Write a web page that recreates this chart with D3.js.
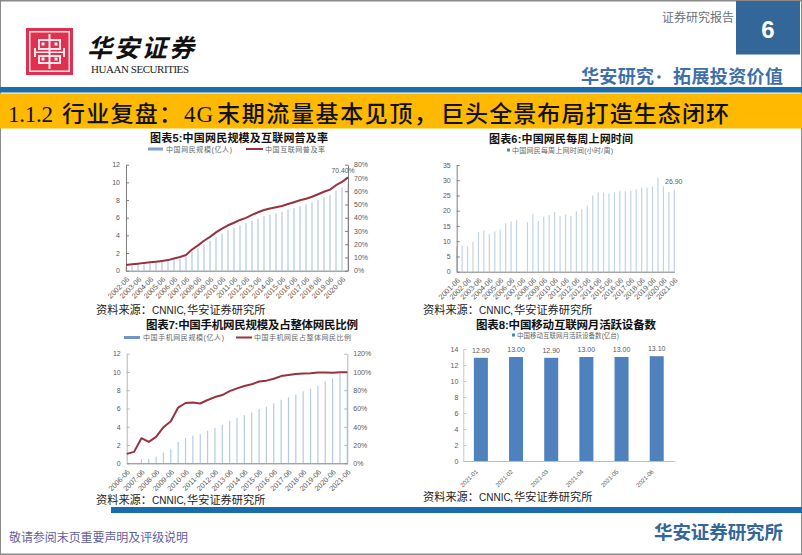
<!DOCTYPE html>
<html><head><meta charset="utf-8">
<script src="https://cdn.jsdelivr.net/npm/d3@7"></script>
<style>html,body{margin:0;padding:0;background:#fff}svg{display:block}
text{font-family:"Liberation Sans","Noto Sans CJK SC",sans-serif}
.cn{font-family:"Liberation Serif","Noto Sans CJK SC",serif}</style></head><body>
<div id="c"></div>
<script>
// ---- data ----
const halfYears5 = ["2002-06","2002-12","2003-06","2003-12","2004-06","2004-12","2005-06","2005-12","2006-06","2006-12","2007-06","2007-12","2008-06","2008-12","2009-06","2009-12","2010-06","2010-12","2011-06","2011-12","2012-06","2012-12","2013-06","2013-12","2014-06","2014-12","2015-06","2015-12","2016-06","2016-12","2017-06","2017-12","2018-06","2018-12","2019-06","2020-03","2020-06","2020-12"];
const users5 = [0.46,0.59,0.68,0.80,0.87,0.94,1.03,1.11,1.23,1.37,1.62,2.10,2.53,2.98,3.38,3.84,4.20,4.57,4.85,5.13,5.38,5.64,5.91,6.18,6.32,6.49,6.68,6.88,7.10,7.31,7.51,7.72,8.02,8.29,8.54,9.04,9.40,9.89];
const rate5 = [4.3,4.8,5.3,5.9,6.3,6.8,7.4,8.0,9.2,10.3,11.8,16.0,19.1,22.6,25.5,28.9,31.8,34.3,36.2,38.3,39.9,42.1,44.1,45.8,46.9,47.9,48.8,50.3,51.7,53.2,54.3,55.8,57.7,59.6,61.2,64.5,67.0,70.4];
const ticks5 = ["2002-06","2003-06","2004-06","2005-06","2006-06","2007-06","2008-06","2009-06","2010-06","2011-06","2012-06","2013-06","2014-06","2015-06","2016-06","2017-06","2018-06","2019-06","2020-06"];

const halfYears6 = ["2001-06","2001-12","2002-06","2002-12","2003-06","2003-12","2004-06","2004-12","2005-06","2005-12","2006-06","2006-12","2007-06","2007-12","2008-06","2008-12","2009-06","2009-12","2010-06","2010-12","2011-06","2011-12","2012-06","2012-12","2013-06","2013-12","2014-06","2014-12","2015-06","2015-12","2016-06","2016-12","2017-06","2017-12","2018-06","2018-12","2019-06","2020-03","2020-06","2020-12","2021-06"];
const hours6 = [8.3,8.5,8.3,9.8,13,13.5,12.3,13.2,13.8,16,16.5,16.9,0,16.2,19,16.6,18,18.6,19.6,18.2,18.7,18.3,19.8,20.5,21.7,25,26,26,25.6,26,26.4,26.4,26.5,27,27.6,27.6,27.9,30.8,28,26.2,26.9];
const ticks6 = ["2001-06","2002-06","2003-06","2004-06","2005-06","2006-06","2007-06","2008-06","2009-06","2010-06","2011-06","2012-06","2013-06","2014-06","2015-06","2016-06","2017-06","2018-06","2019-06","2020-06","2021-06"];

const halfYears7 = ["2006-06","2006-12","2007-06","2007-12","2008-06","2008-12","2009-06","2009-12","2010-06","2010-12","2011-06","2011-12","2012-06","2012-12","2013-06","2013-12","2014-06","2014-12","2015-06","2015-12","2016-06","2016-12","2017-06","2017-12","2018-06","2018-12","2019-06","2019-12","2020-06","2020-12","2021-06"];
const mobile7 = [0.01,0.05,0.44,0.50,0.73,1.18,1.55,2.33,2.77,3.03,3.18,3.56,3.88,4.20,4.64,5.00,5.27,5.57,5.94,6.20,6.56,6.95,7.24,7.53,7.88,8.17,8.47,8.97,9.32,9.86,10.07];
const share7 = [10.3,12.5,27.5,23.5,29,39.5,46,61,66,66.5,65.5,69.3,72.5,74.7,79,82,84.7,86.5,89.5,90.5,92.6,95.5,96.6,97.8,98.3,98.6,99.3,99.3,99.2,99.7,99.6];
const ticks7 = ["2006-06","2007-06","2008-06","2009-06","2010-06","2011-06","2012-06","2013-06","2014-06","2015-06","2016-06","2017-06","2018-06","2019-06","2020-06","2021-06"];

const months8 = ["2021-01","2021-02","2021-03","2021-04","2021-05","2021-06"];
const devices8 = [12.9,13.0,12.9,13.0,13.0,13.1];

const BLUE="#4f81bd", RED="#98323f", GREY="#595959", AXIS="#7f7f7f", HEAD="#336699";
const W=802,H=555;
const svg=d3.select("#c").append("svg").attr("width",W).attr("height",H);

function txt(x0,x1,y,s,size,fill,weight,cls){
  const t=svg.append("text").attr("x",x0).attr("y",y).attr("font-size",size).attr("fill",fill||"#000")
    .attr("dominant-baseline","central").text(s);
  if(weight)t.attr("font-weight",weight);
  if(cls)t.attr("class",cls);
  if(x1)t.attr("textLength",x1-x0).attr("lengthAdjust","spacing");
  return t;
}
function rect(x,y,w,h,f){return svg.append("rect").attr("x",x).attr("y",y).attr("width",w).attr("height",h).attr("fill",f);}

// ---- page furniture ----
rect(0,0,W,1.5,"#8a8a8a");rect(0,0,1,H,"#8a8a8a");rect(0,H-1.5,W,1.5,"#8a8a8a");rect(W-1,0,1,H,"#8a8a8a");
rect(736,1,64,53.5,HEAD);
svg.append("text").attr("x",768).attr("y",29).attr("text-anchor","middle").attr("dominant-baseline","central")
  .attr("font-size",24).attr("font-weight","bold").attr("fill","#fff").text("6");
txt(662,734,18,"证券研究报告",12,"#6b7078");
txt(581,654,76.5,"华安研究",18,"#3f6fa8","bold");
svg.append("circle").attr("cx",659).attr("cy",77).attr("r",1.8).attr("fill","#3f6fa8");
txt(673,783,76.5,"拓展投资价值",18,"#3f6fa8","bold");
rect(0,87,W,5.5,"#1a6dad");
rect(0,93.5,W,35,"#ffb900");
const T=(a,b,s)=>txt(a,b,114,s,23,"#111","500","cn");
T(8,53,"1.1.2");T(62,182,"行业复盘\uFF1A");T(184,213,"4G");T(217,437,"末期流量基本见顶\uFF0C");T(441,729,"巨头全景布局打造生态闭环");
rect(111,507,691,6,"#1a6dad");
txt(9,188,538,"敬请参阅末页重要声明及评级说明",12,"#5f5f9e");
txt(654,783,532,"华安证券研究所",18.5,HEAD,"bold");

// ---- logo ----
const logo=svg.append("g").attr("transform","translate(26,28)");
logo.append("rect").attr("width",47).attr("height",47).attr("fill","#e0304f");
const ln=(x,y,w,h)=>logo.append("rect").attr("x",x).attr("y",y).attr("width",w).attr("height",h).attr("fill","#fbe8ea");
ln(3,3,41,1.5);ln(3,42.5,41,1.5);ln(3,3,1.5,41);ln(42.5,3,1.5,41);
ln(12,11,23,2);ln(12,20,23,2);ln(12,27,23,2);ln(12,34,23,2);
ln(12,11,2,11);ln(33,11,2,11);ln(12,27,2,9);ln(33,27,2,9);
ln(22.5,6,2,35);ln(8,20,2,9);ln(37,20,2,9);ln(8,23.5,31,1.5);
logo.selectAll(".d").data([[17,16],[30,16],[17,31],[30,31]]).join("rect").attr("x",d=>d[0]-1.5).attr("y",d=>d[1]-1.5).attr("width",3).attr("height",3).attr("fill","#fbe8ea");
txt(87,194,48,"华安证券",25,"#111","bold").attr("font-style","italic");
txt(91,189,69,"HUAAN SECURITIES",11,"#222",null,"cn").style("font-family","'Liberation Serif'");

// ---- chart helpers ----
function styleAxis(g,color,fs){
  g.selectAll("path").attr("stroke",color).attr("stroke-width",1);
  g.selectAll("line").attr("stroke",color).attr("stroke-width",1);
  g.selectAll("text").attr("fill",GREY).attr("font-size",fs||7);
}
function xAxis(x,y0,ticks,fs,col,dx,dy){
  const g=svg.append("g").attr("transform",`translate(0,${y0})`).call(d3.axisBottom(x).tickValues(ticks).tickSize(0));
  styleAxis(g,col||AXIS,fs||7.3);
  g.selectAll("text").attr("text-anchor","end").attr("x",0).attr("y",0).attr("dy",0)
    .attr("dominant-baseline","central")
    .attr("transform",`translate(${dx===undefined?1.5:dx},${dy===undefined?7.5:dy}) rotate(-45)`);
  return g;
}
function yAxis(x0,y,ticks,fmt,right,col,pad){
  const ax=(right?d3.axisRight(y):d3.axisLeft(y)).tickValues(ticks).tickFormat(fmt).tickSizeOuter(0).tickSizeInner(-3).tickPadding(pad||6);
  const g=svg.append("g").attr("transform",`translate(${x0},0)`).call(ax);
  styleAxis(g,col||AXIS);
  return g;
}
function bars(x,y,vals,cats,w,color,op){
  svg.append("g").selectAll("rect").data(vals).join("rect")
    .attr("x",(d,i)=>x(cats[i])-w/2).attr("width",w)
    .attr("y",d=>y(d)).attr("height",d=>y(0)-y(d))
    .attr("fill",color).attr("fill-opacity",op);
}
function line(x,y,vals,cats){
  const p=d3.line().x((d,i)=>x(cats[i])).y(d=>y(d));
  svg.append("path").attr("d",p(vals)).attr("fill","none").attr("stroke",RED).attr("stroke-width",2).attr("stroke-linejoin","round");
}
function source(x,y){
  const t=svg.append("text").attr("y",y).attr("fill","#222").attr("font-size",11.2).attr("dominant-baseline","central");
  t.append("tspan").attr("x",x).text("资料来源\uFF1A");
  t.append("tspan").attr("x",x+56).attr("font-size",10).text("CNNIC");
  t.append("tspan").attr("x",x+87).text(",");
  t.append("tspan").attr("x",x+91).text("华安证券研究所");
}
function swatch(x0,x1,y,color,h){rect(x0,y-h/2,x1-x0,h,color);}
const seq=(a,b,s)=>d3.range(a,b+s/2,s);

// ---- chart 5 ----
{
  txt(150,328,138,"图表5:中国网民规模及互联网普及率",11,"#111","bold");
  swatch(148,163,149,"#7f9fcc",3);txt(166,232,149,"中国网民规模(亿人)",7,"#666");
  swatch(246,263,149,RED,2);txt(265,325,149,"中国互联网普及率",7,"#666");
  const x=d3.scalePoint().domain(halfYears5).range([126,348]);
  const y=d3.scaleLinear().domain([0,12]).range([270.7,164.7]);
  const y2=d3.scaleLinear().domain([0,80]).range([270.7,164.7]);
  bars(x,y,users5,halfYears5,1.3,BLUE,.4);
  yAxis(126,y,seq(0,12,2),d3.format("d"));
  yAxis(348,y2,seq(0,80,10),d=>d+"%",true);
  xAxis(x,270.7,ticks5);
  line(x,y2,rate5,halfYears5);
  txt(331.5,null,170.5,"70.40%",6.8,GREY);
  source(96,310);
}
// ---- chart 6 ----
{
  txt(489,633,139,"图表6:中国网民每周上网时间",11,"#111","bold");
  rect(507,148.5,3,3,BLUE);txt(512,613,150,"中国网民每周上网时间(小时/周)",7,"#666");
  const x=d3.scalePoint().domain(halfYears6).range([456.7,674.3]);
  const y=d3.scaleLinear().domain([0,35]).range([271.7,165]);
  bars(x,y,hours6,halfYears6,1.2,BLUE,.35);
  yAxis(456.7,y,seq(0,35,5),d3.format("d"));
  xAxis(x,271.7,ticks6);
  txt(665,null,181.5,"26.90",7,GREY);
  source(423,310);
}
// ---- chart 7 ----
{
  txt(146,358,325,"图表7:中国手机网民规模及占整体网民比例",11.5,"#111","bold");
  swatch(124,140,337.5,"#6f96c8",3);txt(143,224,337.5,"中国手机网民规模(亿人)",7,"#666");
  swatch(236,252,337.5,RED,2);txt(254,351,337.5,"中国手机网民占整体网民比例",7,"#666");
  const x=d3.scalePoint().domain(halfYears7).range([126.7,347.3]);
  const y=d3.scaleLinear().domain([0,12]).range([463.3,353.7]);
  const y2=d3.scaleLinear().domain([0,120]).range([463.3,353.7]);
  bars(x,y,mobile7,halfYears7,1.2,BLUE,.42);
  yAxis(126.7,y,seq(0,12,2),d3.format("d"),false,"#b5b5b5");
  yAxis(347.3,y2,seq(0,120,20),d=>d+"%",true,"#b5b5b5");
  xAxis(x,463.3,ticks7);
  line(x,y2,share7,halfYears7);
  source(96,500);
}
// ---- chart 8 ----
{
  txt(476,656,325,"图表8:中国移动互联网月活跃设备数",11.5,"#111","bold");
  rect(512,333.5,3,3,BLUE);txt(517,619,335,"中国移动互联网月活跃设备数(亿台)",6.5,"#666");
  const x=d3.scaleBand().domain(months8).range([463.3,674.3]);
  const y=d3.scaleLinear().domain([0,14]).range([461,349]);
  svg.append("g").selectAll("rect").data(devices8).join("rect")
    .attr("x",(d,i)=>x(months8[i])+x.bandwidth()/2-7).attr("width",14)
    .attr("y",d=>y(d)).attr("height",d=>y(0)-y(d)).attr("fill",BLUE);
  yAxis(463.3,y,seq(0,14,2),d3.format("d"),false,"#c8c8c8",5);
  xAxis(x,461,months8,6,"#bdbdbd",-4,9.7);
  svg.append("g").selectAll("text").data(devices8).join("text")
    .attr("x",(d,i)=>x(months8[i])+x.bandwidth()/2).attr("y",d=>y(d)-7.5)
    .attr("text-anchor","middle").attr("font-size",7).attr("fill",GREY).attr("dominant-baseline","central")
    .text(d=>d.toFixed(2));
  source(423,497);
}
</script></body></html>
